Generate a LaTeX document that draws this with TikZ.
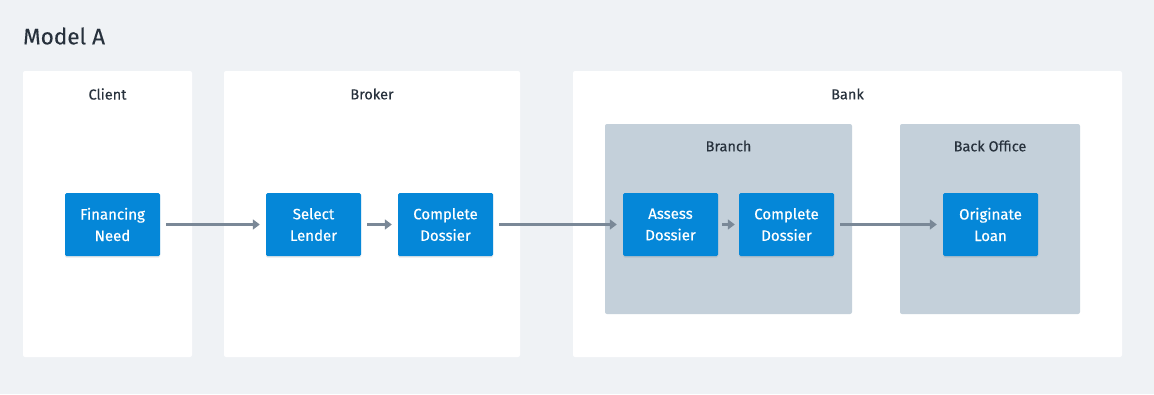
\documentclass[tikz,border=0pt]{standalone}
\usepackage{fontspec}
\setmainfont{Fira Sans}
\usetikzlibrary{arrows.meta,shadows}
\definecolor{bgc}{HTML}{EFF2F5}
\definecolor{sub}{HTML}{C4D0DA}
\definecolor{boxc}{HTML}{0587D8}
\definecolor{txt}{HTML}{27313C}
\definecolor{arr}{HTML}{7A8897}
\tikzset{
  x=1pt,y=-1pt,
  lane/.style={fill=white,rounded corners=2pt,draw=none},
  sublane/.style={fill=sub,rounded corners=2pt,draw=none},
  title/.style={text=txt,font=\fontsize{14.5}{17}\selectfont\addfontfeatures{FakeBold=0.2},anchor=center},
  stepbox/.style={fill=boxc,rounded corners=1.5pt,minimum width=95pt,minimum height=63pt,text=white,align=center,
    font=\fontsize{15}{21.5}\selectfont\addfontfeatures{FakeBold=0.5},inner sep=0pt,
    drop shadow={shadow xshift=0pt,shadow yshift=-1.5pt,opacity=0.15,fill=black!60}},
  flow/.style={draw=arr,line width=2.6pt,-{Triangle[length=7pt,width=10pt]}},
}
\begin{document}
\begin{tikzpicture}
\useasboundingbox (0,0) rectangle (1154,394);
\fill[bgc] (0,0) rectangle (1154,394);
\node[anchor=west,inner sep=0pt,text=txt,font=\fontsize{22.5}{26}\selectfont\addfontfeatures{FakeBold=0.2}] (mt) at (23,36) {Model A};
% lanes
\fill[lane] (23,71) rectangle (192,357);
\fill[lane] (224,71) rectangle (520,357);
\fill[lane] (573,71) rectangle (1122,357);
\node[title] (tc) at (107.5,94) {Client};
\node[title] (tb) at (372,94) {Broker};
\node[title] (tk) at (847.5,94) {Bank};
\fill[sublane] (605,124) rectangle (852,314);
\fill[sublane] (900,124) rectangle (1080,314);
\node[title] (tbr) at (728.5,146) {Branch};
\node[title] (tbo) at (990,146) {Back Office};
% steps
\node[stepbox] (fn) at (112.5,224.5) {Financing\\Need};
\node[stepbox] (sl) at (313.5,224.5) {Select\\Lender};
\node[stepbox] (cd1) at (445.5,224.5) {Complete\\Dossier};
\node[stepbox] (ad) at (670.5,224.5) {Assess\\Dossier};
\node[stepbox] (cd2) at (786.5,224.5) {Complete\\Dossier};
\node[stepbox] (ol) at (990.5,224.5) {Originate\\Loan};
% arrows
\draw[flow] ([xshift=6pt]fn.east) -- ([xshift=-6pt]sl.west);
\draw[flow] ([xshift=6pt]sl.east) -- ([xshift=-6pt]cd1.west);
\draw[flow] ([xshift=6pt]cd1.east) -- ([xshift=-6pt]ad.west);
\draw[flow] ([xshift=4pt]ad.east) -- ([xshift=-4pt]cd2.west);
\draw[flow] ([xshift=6pt]cd2.east) -- ([xshift=-6pt]ol.west);
\end{tikzpicture}
\end{document}
